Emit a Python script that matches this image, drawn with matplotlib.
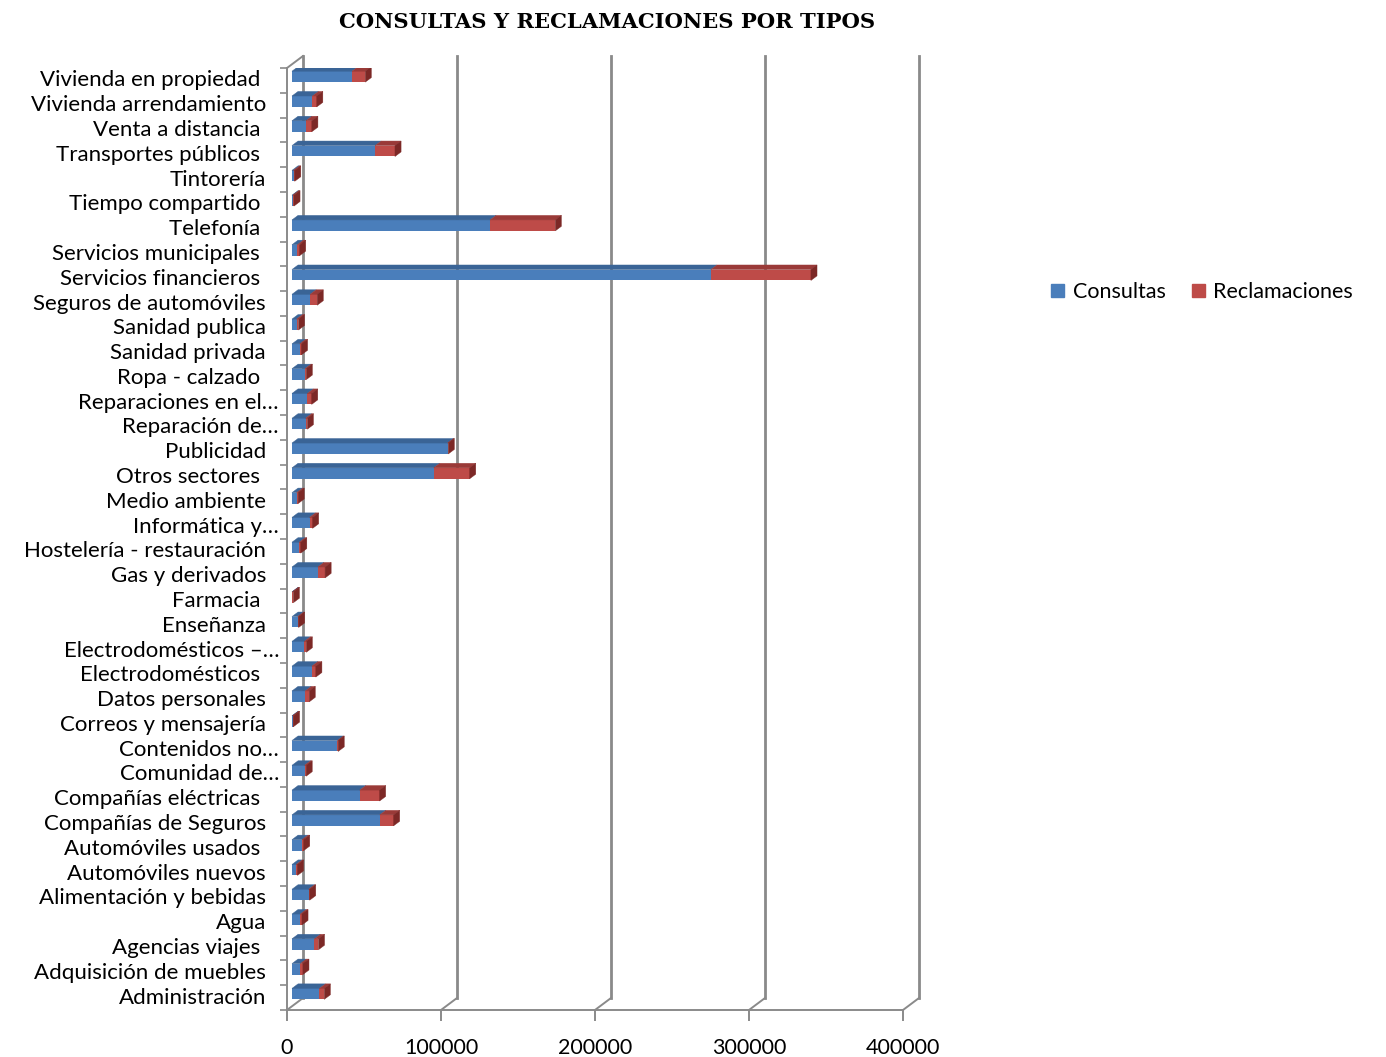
import numpy as np
import matplotlib.pyplot as plt
from matplotlib.patches import Polygon, Patch

# --- datos ---
tipos = [
    'Vivienda en propiedad ', 'Vivienda arrendamiento', 'Venta a distancia ',
    'Transportes públicos ', 'Tintorería', 'Tiempo compartido ', 'Telefonía ',
    'Servicios municipales ', 'Servicios financieros ', 'Seguros de automóviles',
    'Sanidad publica', 'Sanidad privada', 'Ropa - calzado ', 'Reparaciones en el…',
    'Reparación de…', 'Publicidad', 'Otros sectores ', 'Medio ambiente',
    'Informática y…', 'Hostelería - restauración', 'Gas y derivados', 'Farmacia ',
    'Enseñanza', 'Electrodomésticos –…', 'Electrodomésticos ', 'Datos personales',
    'Correos y mensajería', 'Contenidos no…', 'Comunidad de…',
    'Compañías eléctricas ', 'Compañías de Seguros', 'Automóviles usados ',
    'Automóviles nuevos', 'Alimentación y bebidas', 'Agua', 'Agencias viajes ',
    'Adquisición de muebles', 'Administración',
]
consultas = np.array([
    39000, 13300, 9000, 54000, 1000, 500, 128600, 3500, 272000, 11800,
    3000, 5000, 8500, 10000, 8800, 101000, 92000, 3000, 11400, 4700,
    16800, 300, 3700, 8000, 12900, 8600, 400, 29500, 8200, 44000,
    57000, 6500, 2800, 10800, 5400, 14600, 5400, 17800,
])
reclamaciones = np.array([
    8600, 2800, 3900, 12900, 800, 800, 42400, 1500, 65000, 4600,
    1200, 1200, 800, 2800, 1200, 500, 23400, 1000, 2000, 1000,
    4700, 600, 600, 1300, 2600, 2600, 600, 500, 1000, 12900,
    9000, 1100, 800, 700, 1100, 2600, 1700, 3200,
])
ticks = [0, 100000, 200000, 300000, 400000]
tick_labels = ['0', '100000', '200000', '300000', '400000']

azul, azul_sup = '#4a7ebb', '#3a6496'
rojo, rojo_sup, rojo_lado = '#be4b48', '#9a3a38', '#7c2826'
gris = '#8a8a8a'

plt.rcParams['font.family'] = ['Lato', 'DejaVu Sans']

W, H = 1386, 1057
fig = plt.figure(figsize=(W / 100, H / 100), dpi=100)
ax = fig.add_axes([287 / W, (H - 1010) / H, 616 / W, 942 / H])
n = len(tipos)
ax.set_xlim(0, 400000)
ax.set_ylim(0, n)
for s in ax.spines.values():
    s.set_visible(False)

# profundidad de la vista 3D (en unidades de datos)
dx = 16 * 400000 / 616
dy = 12 * n / 942
f0, f1 = 0.31, 0.69
alto = 0.44

y = np.arange(n)[::-1]
yc = y + 0.5 + f0 * dy
x0 = f0 * dx
ddx, ddy = (f1 - f0) * dx, (f1 - f0) * dy

# paredes y rejilla
for t in ticks:
    ax.plot([t + dx, t + dx], [dy, n + dy], color=gris, lw=2, clip_on=False, zorder=1)
    ax.plot([t, t + dx], [0, dy], color=gris, lw=1.4, clip_on=False, zorder=1)
ax.plot([0, 0], [0, n], color=gris, lw=1.4, clip_on=False, zorder=1)
ax.plot([0, dx], [n, n + dy], color=gris, lw=1.4, clip_on=False, zorder=1)
ax.plot([0, 400000], [0, 0], color=gris, lw=1.4, clip_on=False, zorder=1)

# barras apiladas
ax.barh(yc, consultas, left=x0, height=alto, color=azul, zorder=3)
ax.barh(yc, reclamaciones, left=x0 + consultas, height=alto, color=rojo, zorder=3)
for yi, c, r in zip(yc, consultas, reclamaciones):
    sup, inf = yi + alto / 2, yi - alto / 2
    x1, x2 = x0 + c, x0 + c + r
    ax.add_patch(Polygon([(x0, sup), (x1, sup), (x1 + ddx, sup + ddy), (x0 + ddx, sup + ddy)],
                         fc=azul_sup, ec=azul_sup, lw=0.3, zorder=3))
    ax.add_patch(Polygon([(x1, sup), (x2, sup), (x2 + ddx, sup + ddy), (x1 + ddx, sup + ddy)],
                         fc=rojo_sup, ec=rojo_sup, lw=0.3, zorder=3))
    ax.add_patch(Polygon([(x2, inf), (x2, sup), (x2 + ddx, sup + ddy), (x2 + ddx, inf + ddy)],
                         fc=rojo_lado, ec=rojo_lado, lw=0.3, zorder=3))

# ejes
ax.set_xticks(ticks)
ax.set_xticklabels(tick_labels)
ax.tick_params(axis='x', length=8, width=1.4, color=gris, pad=12, labelsize=15.5)
ax.set_yticks(np.arange(n + 1))
ax.set_yticklabels([])
ax.tick_params(axis='y', length=5, width=1.2, color=gris)

tr = ax.get_yaxis_transform()
for yi, t in zip(y, tipos):
    xpos = -8 / 616 if t.endswith('…') else -21 / 616
    ax.text(xpos, yi + 0.5, t, transform=tr, ha='right', va='center', fontsize=16)

fig.text(607 / W, 1 - 22 / H, 'CONSULTAS Y RECLAMACIONES POR TIPOS',
         family='DejaVu Serif', weight='bold', fontsize=15.2, ha='center', va='center')

fig.legend(handles=[Patch(color=azul, label='Consultas'), Patch(color=rojo, label='Reclamaciones')],
           loc='center left', bbox_to_anchor=(1032 / W, 1 - 292 / H), ncol=2, frameon=False,
           handlelength=0.6, handleheight=0.6, handletextpad=0.4, columnspacing=1.2, fontsize=15.5)

fig.savefig('out.png', dpi=100)
